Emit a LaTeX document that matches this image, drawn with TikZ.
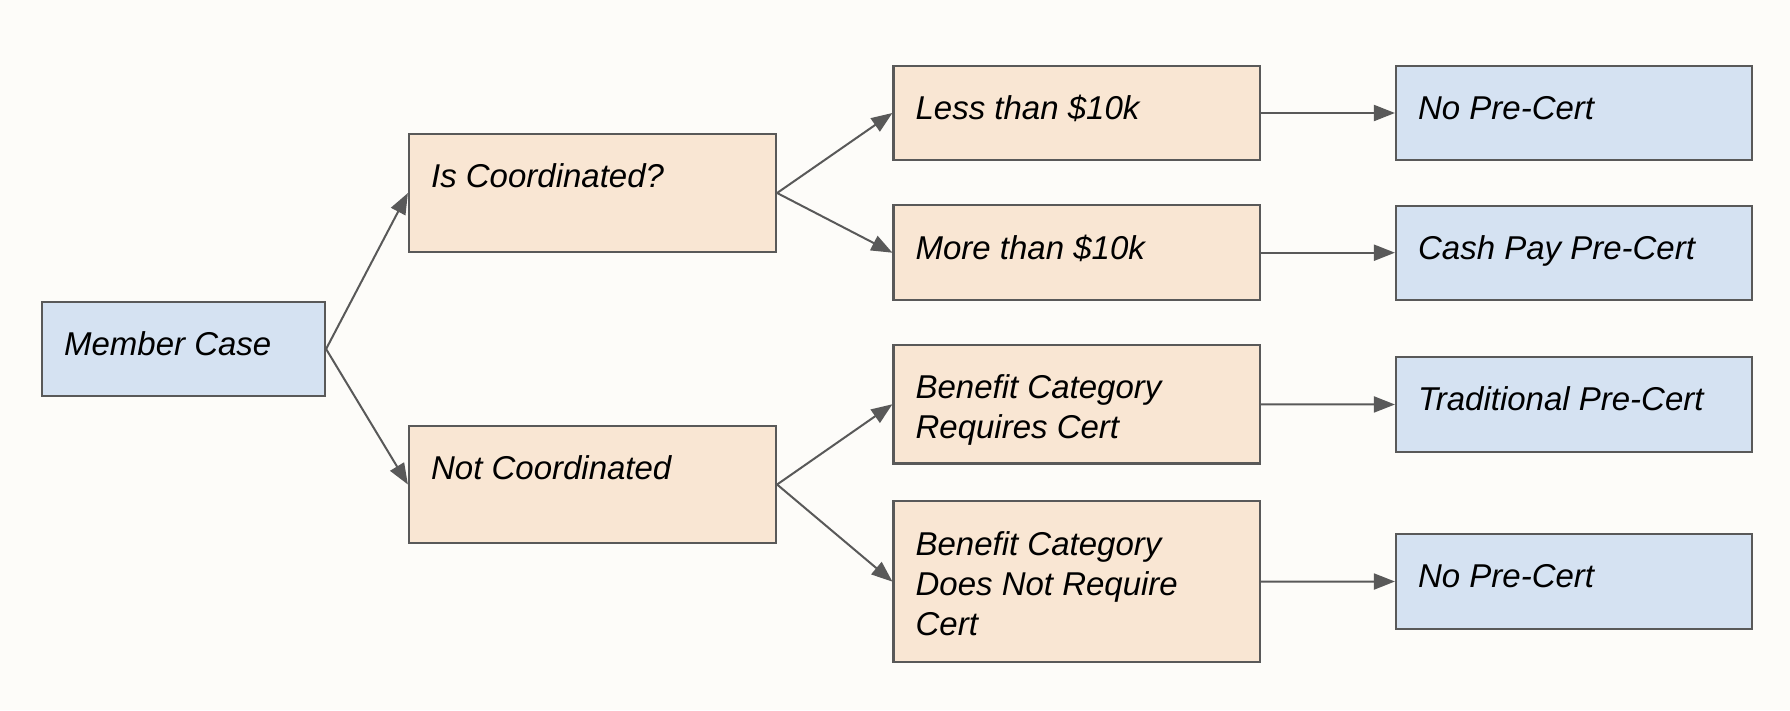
\documentclass[tikz,border=0pt]{standalone}
\usepackage{fontspec}
\setmainfont{Liberation Sans}
\usetikzlibrary{arrows.meta,calc}
\definecolor{bgc}{HTML}{FDFCF9}
\definecolor{bluef}{HTML}{D5E2F2}
\definecolor{orangef}{HTML}{F9E6D3}
\definecolor{edgec}{HTML}{595959}
\tikzset{
  box/.style={draw=edgec, line width=2.2pt, inner sep=0pt, rectangle},
  bluebox/.style={box, fill=bluef},
  orangebox/.style={box, fill=orangef},
  lbl/.style={anchor=base west, inner sep=0pt, font=\fontsize{33}{40}\selectfont\itshape},
  conn/.style={draw=edgec, line width=2pt, -{Triangle[length=21pt,width=16pt]}}
}
\newcommand{\twol}[1]{\begin{tabular}[t]{@{}l@{}}#1\end{tabular}}
\begin{document}
\begin{tikzpicture}[x=1pt,y=-1pt]
\fill[bgc] (0,0) rectangle (1790,710);
\useasboundingbox (0,0) rectangle (1790,710);
% boxes
\node[bluebox, minimum width=283pt, minimum height=94pt] (mc) at (183.5,349) {};
\node[orangebox, minimum width=367pt, minimum height=118pt] (ic) at (592.5,193) {};
\node[orangebox, minimum width=367pt, minimum height=117pt] (nc) at (592.5,484.5) {};
\node[orangebox, minimum width=366.5pt, minimum height=94pt] (lt) at (1076.75,113) {};
\node[orangebox, minimum width=366.5pt, minimum height=95pt] (mt) at (1076.75,252.7) {};
\node[orangebox, minimum width=366.5pt, minimum height=118.5pt] (bcr) at (1076.75,404.25) {};
\node[orangebox, minimum width=366.5pt, minimum height=161pt] (bcd) at (1076.75,581.6) {};
\node[bluebox, minimum width=356pt, minimum height=94pt] (np1) at (1574,113) {};
\node[bluebox, minimum width=356pt, minimum height=94pt] (cp) at (1574,252.7) {};
\node[bluebox, minimum width=356pt, minimum height=95pt] (tp) at (1574,404.5) {};
\node[bluebox, minimum width=356pt, minimum height=95pt] (np2) at (1574,581.5) {};
% labels
\node[lbl] (mct) at ($(mc.north west)+(23,55)$) {Member Case};
\node[lbl] (ict) at ($(ic.north west)+(23,55)$) {Is Coordinated?};
\node[lbl] (nct) at ($(nc.north west)+(23,55)$) {Not Coordinated};
\node[lbl] (ltt) at ($(lt.north west)+(23,55)$) {Less than \$10k};
\node[lbl] (mtt) at ($(mt.north west)+(23,55)$) {More than \$10k};
\node[lbl] (bcrt) at ($(bcr.north west)+(23,55)$) {\twol{Benefit Category\\Requires Cert}};
\node[lbl] (bcdt) at ($(bcd.north west)+(23,55)$) {\twol{Benefit Category\\Does Not Require\\Cert}};
\node[lbl] (np1t) at ($(np1.north west)+(23,55)$) {No Pre-Cert};
\node[lbl] (cpt) at ($(cp.north west)+(23,55)$) {Cash Pay Pre-Cert};
\node[lbl] (tpt) at ($(tp.north west)+(23,55)$) {Traditional Pre-Cert};
\node[lbl] (np2t) at ($(np2.north west)+(23,55)$) {No Pre-Cert};
% connectors
\draw[conn] (mc.east) -- (ic.west);
\draw[conn] (mc.east) -- (nc.west);
\draw[conn] (ic.east) -- (lt.west);
\draw[conn] (ic.east) -- (mt.west);
\draw[conn] (nc.east) -- (bcr.west);
\draw[conn] (nc.east) -- (bcd.west);
\draw[conn] (lt.east) -- (np1.west);
\draw[conn] (mt.east) -- (cp.west);
\draw[conn] (bcr.east) -- (tp.west);
\draw[conn] (bcd.east) -- (np2.west);
\end{tikzpicture}
\end{document}
